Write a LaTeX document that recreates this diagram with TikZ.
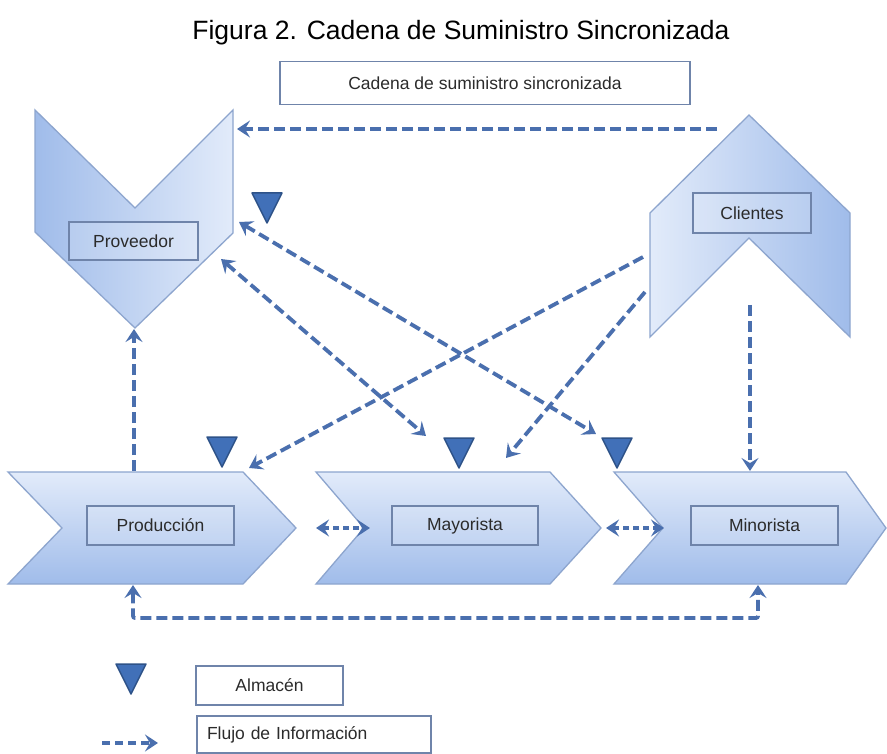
\documentclass[tikz,border=0pt]{standalone}
\usepackage{fontspec}
\setmainfont{Liberation Sans}
\usetikzlibrary{arrows.meta}
\definecolor{flow}{HTML}{4A6FAE}
\definecolor{shdark}{HTML}{A0BCEA}
\definecolor{shlight}{HTML}{E2EBFA}
\definecolor{shedge}{HTML}{8DA5CE}
\definecolor{lbledge}{HTML}{6F84AA}
\definecolor{tridark}{HTML}{2E5288}
\definecolor{trifill}{HTML}{4170B8}
\definecolor{txt}{HTML}{2B2B2B}
\tikzset{
  shapebox/.style={draw=shedge, line width=1.3pt, line join=miter},
  lbl/.style={draw=lbledge, line width=1.4pt, fill=white, fill opacity=0.15, text opacity=1, text=txt, font=\fontsize{17.5}{20}\selectfont, inner sep=0pt},
  flowline/.style={draw=flow, line width=3.8pt, dash pattern=on 11pt off 5pt},
  flowtip/.style={-{Stealth[length=13pt,width=17pt,inset=5pt]}},
  flowtips/.style={{Stealth[length=13pt,width=17pt,inset=5pt]}-{Stealth[length=13pt,width=17pt,inset=5pt]}},
  almacen/.pic={\filldraw[fill=trifill, draw=tridark, line width=1.5pt, line join=round] (-15,0) -- (15,0) -- (0,30) -- cycle;}
}
\begin{document}
\begin{tikzpicture}[x=1pt,y=-1pt]
\useasboundingbox[fill=white] (0,0) rectangle (887,754);

% title
\node[anchor=base, font=\fontsize{26.5}{30}\selectfont, inner sep=0pt] (title) at (461,40) {Figura 2. Cadena de Suministro Sincronizada};

% top box
\node[lbl, minimum width=410pt, minimum height=43pt] (topbox) at (485,83) {Cadena de suministro sincronizada};

% Proveedor shape
\path[shapebox, left color=shdark, right color=shlight] (35,110) -- (135,208) -- (233,110) -- (233,233) -- (135,328) -- (35,232) -- cycle;
\node[lbl, minimum width=129pt, minimum height=38pt] (prov) at (133.5,241) {Proveedor};

% Clientes shape
\path[shapebox, left color=shlight, right color=shdark] (749,115) -- (850,213) -- (850,337) -- (749,238) -- (650,337) -- (650,213) -- cycle;
\node[lbl, minimum width=118pt, minimum height=40pt] (cli) at (752,213) {Clientes};

% bottom chevrons
\path[shapebox, top color=shlight, bottom color=shdark] (8,472) -- (243,472) -- (296,528) -- (243,584) -- (8,584) -- (62,528) -- cycle;
\path[shapebox, top color=shlight, bottom color=shdark] (316,472) -- (550,472) -- (601,528) -- (550,584) -- (316,584) -- (364,528) -- cycle;
\path[shapebox, top color=shlight, bottom color=shdark] (614,472) -- (846,472) -- (886,528) -- (846,584) -- (614,584) -- (663,528) -- cycle;
\node[lbl, minimum width=147pt, minimum height=39pt] (prod) at (160.5,525.5) {Producción};
\node[lbl, minimum width=146pt, minimum height=39pt] (may) at (465,525.5) {Mayorista};
\node[lbl, minimum width=147pt, minimum height=39pt] (min) at (764.5,525.5) {Minorista};

% almacenes
\pic at (267,193) {almacen};
\pic at (222,437) {almacen};
\pic at (459,438) {almacen};
\pic at (617,438) {almacen};

% connector end points
\coordinate (topS) at (717,129);
\coordinate (topE) at (237,129);
\coordinate (pmA) at (239,222);
\coordinate (pmB) at (596,434);
\coordinate (pyA) at (221,259);
\coordinate (pyB) at (426,436);
\coordinate (cpA) at (643,257);
\coordinate (cpB) at (249,468);
\coordinate (cyA) at (645,292);
\coordinate (cyB) at (506,458);
\coordinate (cnA) at (750,305);
\coordinate (cnB) at (750,471);
\coordinate (ppA) at (134,471);
\coordinate (ppB) at (134,329);
\coordinate (bA) at (133,585);
\coordinate (bB) at (758,585);
\coordinate (pyL) at (316,528);
\coordinate (pyR) at (370,528);
\coordinate (ynL) at (606,528);
\coordinate (ynR) at (664,528);

\draw[flowline, flowtip] (topS) -- (topE);
\draw[flowline, flowtips] (pmA) -- (pmB);
\draw[flowline, flowtips] (pyA) -- (pyB);
\draw[flowline, flowtip] (cpA) -- (cpB);
\draw[flowline, flowtip] (cyA) -- (cyB);
\draw[flowline, flowtip] (cnA) -- (cnB);
\draw[flowline, flowtip] (ppA) -- (ppB);
\draw[flowline, flowtips, rounded corners=2pt] (bA) |- (445,618) -| (bB);
\draw[flowline, flowtips, dash pattern=on 6pt off 4pt] (pyL) -- (pyR);
\draw[flowline, flowtips, dash pattern=on 6pt off 4pt] (ynL) -- (ynR);

% legend
\pic at (131,664) {almacen};
\node[lbl, minimum width=147pt, minimum height=39pt] (legA) at (269.5,685.5) {Almacén};
\coordinate (legS) at (102,743);
\coordinate (legE) at (158,743);
\draw[flowline, flowtip, dash pattern=on 8pt off 5pt] (legS) -- (legE);
\node[lbl, text width=214pt, inner xsep=10pt, minimum height=37pt, align=left] (legF) at (314,734.5) {Flujo de Información};
\end{tikzpicture}
\end{document}
